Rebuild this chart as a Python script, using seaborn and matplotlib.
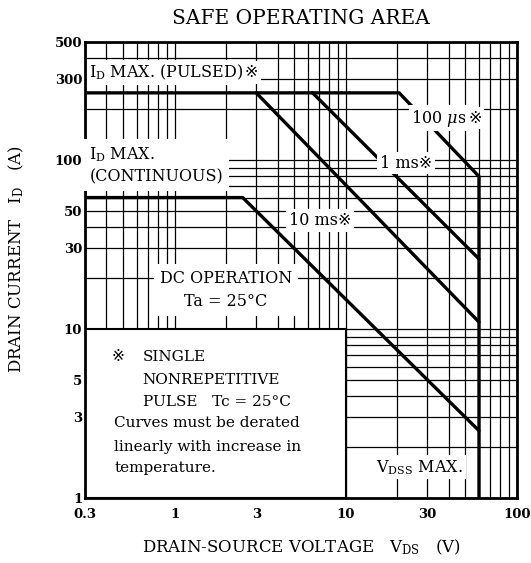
import numpy as np
import pandas as pd
import matplotlib
matplotlib.use('Agg')
import matplotlib.pyplot as plt
from matplotlib.ticker import FixedLocator, LogLocator, NullFormatter
from matplotlib.patches import Rectangle
import seaborn as sns

# safe operating area
vds_100us = [0.3, 20.5, 60, 60]
id_100us = [250, 250, 80, 1]
vds_1ms = [6.4, 60]
id_1ms = [250, 26]
vds_10ms = [3.0, 60]
id_10ms = [250, 11]
vds_dc = [0.3, 2.5, 60]
id_dc = [60, 60, 2.5]

x_ticks = [0.3, 1, 3, 10, 30, 100]
x_ticklabels = ['0.3', '1', '3', '10', '30', '100']
y_ticks = [1, 3, 5, 10, 30, 50, 100, 300, 500]
y_ticklabels = ['1', '3', '5', '10', '30', '50', '100', '300', '500']

soa = pd.concat([
    pd.DataFrame({'vds': vds_100us, 'id': id_100us, 'curve': '100us'}),
    pd.DataFrame({'vds': vds_1ms, 'id': id_1ms, 'curve': '1ms'}),
    pd.DataFrame({'vds': vds_10ms, 'id': id_10ms, 'curve': '10ms'}),
    pd.DataFrame({'vds': vds_dc, 'id': id_dc, 'curve': 'DC'}),
], ignore_index=True)

sns.set_style('white')
plt.rcParams['font.family'] = ['DejaVu Serif', 'DejaVu Sans', 'Noto Sans CJK JP']
plt.rcParams['mathtext.fontset'] = 'dejavuserif'
plt.rcParams['text.color'] = 'black'
plt.rcParams['xtick.color'] = 'black'
plt.rcParams['ytick.color'] = 'black'

fig = plt.figure(figsize=(5.31, 5.63), dpi=100)
ax = fig.add_axes([0.1601, 0.1155, 0.8135, 0.8099])
ax.set_xscale('log')
ax.set_yscale('log')
ax.set_xlim(0.3, 100)
ax.set_ylim(1, 500)

sns.lineplot(data=soa, x='vds', y='id', units='curve', estimator=None, sort=False,
             color='black', lw=2.4, ax=ax, zorder=3)

# ticks and grid
ax.xaxis.set_major_locator(FixedLocator(x_ticks))
ax.set_xticklabels(x_ticklabels)
ax.yaxis.set_major_locator(FixedLocator(y_ticks))
ax.set_yticklabels(y_ticklabels)
ax.xaxis.set_minor_locator(LogLocator(base=10, subs=np.arange(2, 10)))
ax.yaxis.set_minor_locator(LogLocator(base=10, subs=np.arange(2, 10)))
ax.xaxis.set_minor_formatter(NullFormatter())
ax.yaxis.set_minor_formatter(NullFormatter())
ax.tick_params(which='both', length=0, labelcolor='black')
ax.tick_params(axis='x', pad=7, labelsize=9.5)
ax.tick_params(axis='y', pad=2, labelsize=9.5)
for lab in ax.get_xticklabels() + ax.get_yticklabels():
    lab.set_fontweight('bold')
ax.grid(True, which='both', color='black', lw=0.9)
ax.set_xlabel('')
ax.set_ylabel('')
for sp in ax.spines.values():
    sp.set_linewidth(2)
    sp.set_color('black')

white = dict(facecolor='white', edgecolor='none', pad=2)
fs = 11.5
fs_note = 11


def mark_after(txt, size):
    # mathtext can't draw the reference mark, so put it right after the text
    ax.annotate('※', xy=(1, 0.5), xycoords=txt, xytext=(1, 0), textcoords='offset points',
                fontsize=size, va='center', ha='left', bbox=white, zorder=4)


# note box in lower left
ax.add_patch(Rectangle((0.3, 1), 10 - 0.3, 10 - 1, facecolor='white',
                       edgecolor='black', lw=1.5, zorder=2))

t = ax.text(0.318, 330, r'I$_{\rm D}$ MAX. (PULSED)', fontsize=fs, va='center',
            ha='left', bbox=white, zorder=4)
mark_after(t, fs)
ax.text(0.318, 93, 'I$_{\\rm D}$ MAX.\n(CONTINUOUS)', fontsize=fs, va='center',
        ha='left', linespacing=1.4, bbox=dict(facecolor='white', edgecolor='none', pad=4), zorder=4)
ax.text(2.0, 17, 'DC OPERATION\nTa = 25°C', fontsize=fs, va='center', ha='center',
        linespacing=1.5, bbox=dict(facecolor='white', edgecolor='none', pad=4), zorder=4)
ax.text(7.1, 44, '10 ms※', fontsize=fs, va='center', ha='center', bbox=white, zorder=4)
ax.text(22.5, 96, '1 ms※', fontsize=fs, va='center', ha='center', bbox=white, zorder=4)
t = ax.text(35, 177, r'100 $\mu$s', fontsize=fs, va='center', ha='center', bbox=white, zorder=4)
mark_after(t, fs)
ax.text(27, 1.52, r'V$_{\rm DSS}$ MAX.', fontsize=fs, va='center', ha='center',
        bbox=white, zorder=4)

ax.text(0.43, 6.83, '※', fontsize=fs_note, va='center', ha='left', zorder=4)
ax.text(0.65, 6.83, 'SINGLE', fontsize=fs_note, va='center', ha='left', zorder=4)
ax.text(0.65, 5.0, 'NONREPETITIVE', fontsize=fs_note, va='center', ha='left', zorder=4)
ax.text(0.65, 3.7, 'PULSE   Tc = 25°C', fontsize=fs_note, va='center', ha='left', zorder=4)
ax.text(0.445, 2.78, 'Curves must be derated', fontsize=fs_note, va='center', ha='left', zorder=4)
ax.text(0.445, 2.0, 'linearly with increase in', fontsize=fs_note, va='center', ha='left', zorder=4)
ax.text(0.445, 1.5, 'temperature.', fontsize=fs_note, va='center', ha='left', zorder=4)

fig.text(0.567, 0.968, 'SAFE OPERATING AREA', fontsize=14.5, ha='center', va='center')
fig.text(0.567, 0.028, r'DRAIN-SOURCE VOLTAGE   V$_{\rm DS}$   (V)', fontsize=12,
         ha='center', va='center')
fig.text(0.030, 0.54, r'DRAIN CURRENT   I$_{\rm D}$   (A)', fontsize=12,
         ha='center', va='center', rotation=90)

fig.savefig('out.png', dpi=100)
